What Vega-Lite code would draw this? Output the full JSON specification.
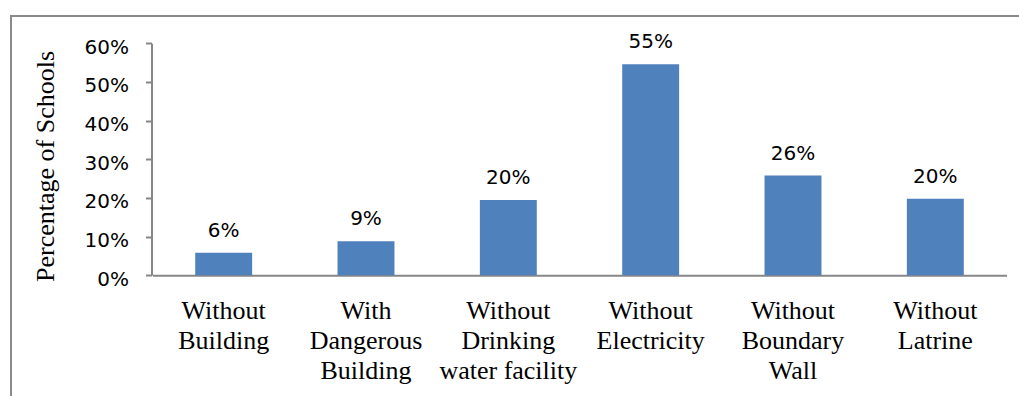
{
  "$schema": "https://vega.github.io/schema/vega-lite/v6.json",
  "autosize": {"type": "none"},
  "padding": {"left": 11, "top": 16, "right": -8, "bottom": -8},
  "width": 1016,
  "height": 388,
  "background": "white",
  "config": {
    "view": {"stroke": "#8a8a8a", "strokeWidth": 2},
    "axis": {"grid": false, "domainColor": "#878787", "domainWidth": 2, "tickColor": "#878787", "tickWidth": 2}
  },
  "data": {
    "values": [
      {"category": "Without\nBuilding", "share": 0.058},
      {"category": "With\nDangerous\nBuilding", "share": 0.088},
      {"category": "Without\nDrinking\nwater facility", "share": 0.195},
      {"category": "Without\nElectricity", "share": 0.546},
      {"category": "Without\nBoundary\nWall", "share": 0.258},
      {"category": "Without\nLatrine", "share": 0.198}
    ]
  },
  "encoding": {
    "x": {
      "field": "category",
      "type": "nominal",
      "sort": null,
      "scale": {"range": [141.5, 995.5], "paddingInner": 0.6, "paddingOuter": 0.3},
      "axis": {
        "title": null,
        "orient": "bottom",
        "offset": -128.7,
        "ticks": false,
        "labelAngle": 0,
        "labelExpr": "split(datum.label, '\\n')",
        "labelFont": "Liberation Serif",
        "labelFontSize": 26,
        "labelLineHeight": 30,
        "labelColor": "black",
        "labelBaseline": "top",
        "labelPadding": 22,
        "labelLimit": 300
      }
    },
    "y": {
      "field": "share",
      "type": "quantitative",
      "scale": {"domain": [0, 0.6], "range": [259.3, 27.3], "nice": false},
      "axis": {
        "title": "Percentage of Schools",
        "orient": "left",
        "offset": -140.5,
        "format": ".0%",
        "values": [0, 0.1, 0.2, 0.3, 0.4, 0.5, 0.6],
        "tickSize": 6,
        "labelPadding": 17,
        "labelOffset": 4,
        "labelFont": "DejaVu Sans",
        "labelFontSize": 20,
        "labelColor": "black",
        "titleFont": "Liberation Serif",
        "titleFontSize": 26,
        "titleFontWeight": "normal",
        "titleColor": "black",
        "titlePadding": 26,
        "titleY": 150
      }
    }
  },
  "layer": [
    {"mark": {"type": "bar", "color": "#4f81bd"}},
    {
      "mark": {"type": "text", "baseline": "alphabetic", "dy": -16, "font": "DejaVu Sans", "fontSize": 20, "color": "black"},
      "encoding": {"text": {"field": "share", "type": "quantitative", "format": ".0%"}}
    }
  ]
}
